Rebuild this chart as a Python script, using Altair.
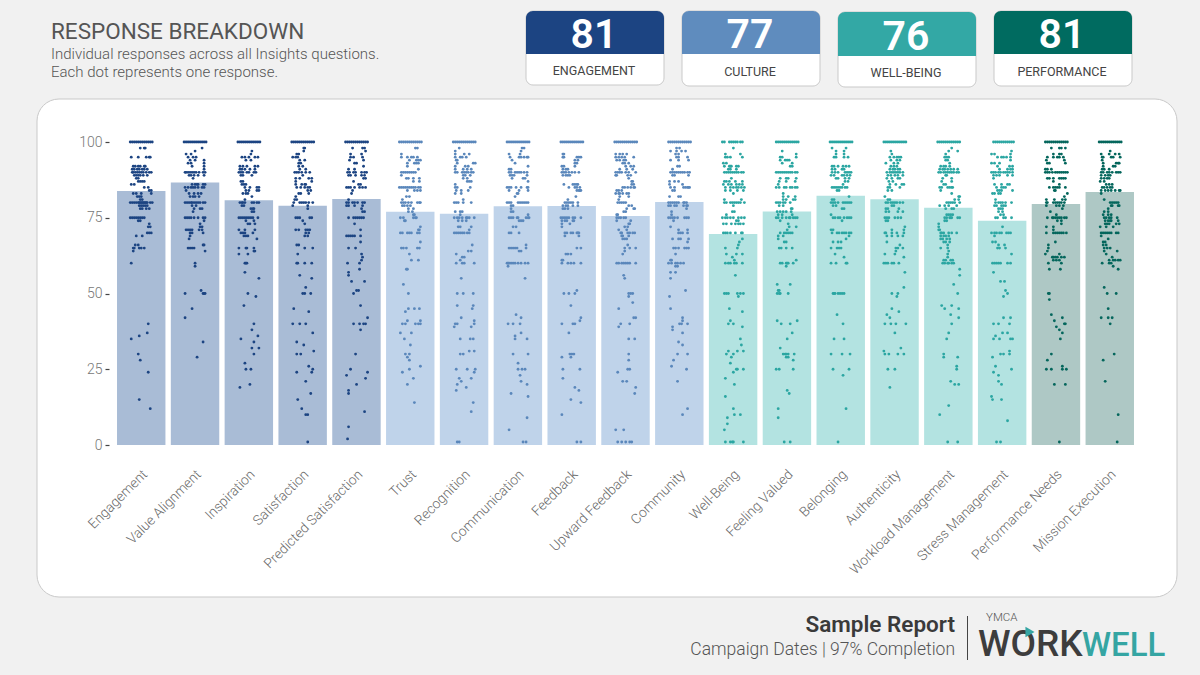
import altair as alt
import pandas as pd

QUESTIONS = ["Engagement", "Value Alignment", "Inspiration", "Satisfaction", "Predicted Satisfaction",
             "Trust", "Recognition", "Communication", "Feedback", "Upward Feedback", "Community",
             "Well-Being", "Feeling Valued", "Belonging", "Authenticity", "Workload Management",
             "Stress Management", "Performance Needs", "Mission Execution"]
SCORES = [83.8, 86.6, 80.8, 79, 81.2, 77, 76.3, 78.8, 78.9, 75.6, 80.2, 69.6, 77.1, 82.3, 81.1, 78.3, 74, 79.5, 83.5]
GROUPS = ["Engagement"] * 5 + ["Culture"] * 6 + ["Well-Being"] * 6 + ["Performance"] * 2
DOT_COLOR = {"Engagement": "#1c4482", "Culture": "#5a87bb", "Well-Being": "#2ba6a2", "Performance": "#04665c"}
BAR_COLOR = {"Engagement": "#a9bcd6", "Culture": "#bfd3ea", "Well-Being": "#b3e3e1", "Performance": "#aec8c5"}

TOP = [-11, -9, -7, -5, -3, -1, 1, 3, 5, 7, 9, 11]

# each row: response value, horizontal jitter of the responses with that value
DOTS = {
"Engagement": [(100,TOP),(98,[-1,3,4]),(95,[-10,-3,5,8,9]),(92,[-8,-6,-3,-1,3,4]),(91,[-9,-7,-4,-2,1,3,6]),
 (90,[-9,-8,-6,-4,-2,0,2,5,8,10]),(89,[-7,-5,-3,-1,2,6]),(88,[-5,-3]),(87,[-3,-1,1,3]),(86,[-10,-7]),(85,[3,7]),(84,[8,10]),
 (83,[-8,-5,0,10]),(82,[-4,-2,0]),(81,[-1,1]),(80,[-11,-9,-7,-5,-3,-2,-1,0,1,2,3,4,5,6,9,11]),(79,[-2,0,2,4,6]),(78,[-1,1,5,8]),
 (75,[-11,-9,-7,-5,-3,-1,1,3]),(74,[-3,-1]),(73,[8]),(72,[7,9]),(70,[6,8,10]),(69,[-5,1]),(66,[-6,-3]),(65,[-8,-7,-2,0,3]),(64,[-8]),(60,[-10]),
 (40,[7]),(37,[6]),(36,[-2]),(35,[-10]),(30,[-3]),(28,[-1]),(24,[7]),(15,[-2]),(12,[9])],
"Value Alignment": [(100,TOP),(98,[7]),(97,[0]),(96,[-9,-4]),(95,[-7,-2,1]),(94,[-5,0,9]),(93,[-7,-4,9]),(92,[9,-3]),(91,[9]),
 (90,[-10,-9,-7,-5,-3,-1,1,4,8,10]),(89,[-6,-4,-1,3,9]),(88,[-2]),(86,[-3,0,2,3,8,10]),(85,[-10,-7,-4,-2,0,3,7,9]),(84,[-9]),(83,[-6,-1,3,6]),(82,[-5,-2,0,4]),
 (80,[-10,-8,-6,-4,-3,-1,1,3,5,8,10]),(79,[-3,1]),(78,[-1,5,7]),(77,[-2]),(75,[-10,-8,-6,-4,-1,3,8,10]),(74,[9]),(73,[5]),(72,[5,7]),
 (71,[-9,-7,-5,-3,4,7]),(70,[-5,-3,8]),(69,[-5]),(68,[-6]),(66,[8,9]),(65,[-7,-5,-3,-1]),(64,[10]),(60,[0]),(59,[0]),
 (51,[6]),(50,[-10,8,9,10]),(45,[-3]),(42,[-10]),(34,[8]),(29,[2])],
"Inspiration": [(100,TOP),(97,[3]),(96,[2]),(95,[-7,-4,0,6,9]),(94,[-3,2]),(92,[-9,-6,-2,6,9]),(91,[-9,-7,-4,1,6]),(90,[-10,-8,-6,-2,0,5,7]),(89,[-8,-6,3]),
 (87,[-8,-6]),(86,[-7,-5,-3]),(85,[-4,1,8,10]),(84,[-3,0,8,10]),(83,[-6,-3,-1]),(82,[3]),(81,[-4]),(80,[-9,-7,-6,-4,3,5,8,10]),(79,[-7,-5]),(78,[2,4,5]),(77,[3,5]),
 (75,[-10,-8,-6,-4,-2,0,2,4,9]),(74,[-3,5]),(73,[-1,1,6]),(71,[-10,-4,6]),(70,[-8,-6,-4,4]),(69,[-5,-3,-1]),(68,[8]),(65,[-10,-3,-2,5]),(64,[5,6]),(63,[-10,-1]),
 (60,[-4,-3,-2]),(57,[-4]),(55,[10]),(50,[-1]),(49,[7]),(46,[-5]),(40,[5]),(38,[3]),(36,[9]),(35,[-8]),(34,[5]),(32,[3,10]),(30,[5]),(27,[-4]),(25,[-3,2]),(20,[1]),(19,[-9])],
"Satisfaction": [(100,TOP),(98,[1,2]),(97,[1]),(96,[-6,-4]),(95,[-10,-7,-5]),(94,[-3,2]),(93,[-4,-2]),(92,[-4,0]),(91,[-3,3]),(90,[-8,-6,-4,-1,3,7]),(89,[0]),
 (88,[-7,-3,6,9]),(87,[-7,9]),(86,[-7,-1,2,3]),(85,[-6,-2,2,5,7]),(84,[5,8]),(83,[-4,-2,6]),(82,[-7]),(81,[-8,-6]),(80,[-9,-3,-1,1,3,6,10]),(79,[-10,5]),(78,[5]),
 (75,[-7,-5,-3,7,9]),(74,[0]),(73,[2]),(71,[-7,-4,3,5,7]),(70,[3,6]),(69,[2,5]),(66,[-6,-4]),(65,[2,10]),(63,[-5]),(60,[-6,-5,2,9]),(56,[-3]),(55,[9]),(52,[3]),(50,[0,2,8]),
 (45,[-9]),(44,[6]),(40,[-10,-3,3]),(37,[10]),(34,[-6]),(33,[1]),(31,[11]),(30,[-6,-2]),(26,[6]),(25,[10]),(24,[9,-6]),(21,[3]),(17,[8]),(15,[-5]),(12,[-1]),(10,[3,5]),(1,[5])],
"Predicted Satisfaction": [(100,TOP),(98,[-4,6,8]),(97,[9]),(96,[-6,5]),(95,[-6,-3,6]),(94,[-7,7]),(93,[-2,0]),(92,[7]),(91,[-8,-2]),(90,[-9,-7,-3,-1,5,8,10]),(89,[-8,-6,-1,5,8]),(88,[7,9]),
 (87,[-3]),(86,[2,4]),(85,[-10,-8,-6,-2,3,6,9]),(84,[-4]),(83,[-5]),(81,[-8]),(80,[-10,-8,-4,-2,1,6,8]),(79,[-10,-8,-2,6]),(78,[5]),(77,[6,8]),(75,[-8,-3,-1,1,3,5,7]),(73,[-2]),
 (71,[4]),(69,[-10,-8,-6,-4,-2,4]),(67,[4]),(65,[-8,-1]),(63,[5]),(62,[6]),(61,[5]),(60,[-9,3]),(58,[3]),(57,[-8]),(56,[-8]),(54,[-5,8]),(51,[0,2]),(50,[-3]),
 (46,[4]),(42,[11]),(40,[-3,3,7,9]),(38,[4]),(30,[-1]),(25,[-6]),(24,[11]),(23,[-10]),(22,[9]),(20,[0]),(18,[-8]),(17,[-8]),(11,[8]),(6,[-8]),(2,[-9])],
"Trust": [(100,TOP),(98,[5,7]),(96,[-9]),(95,[-9,-3,1,3,7]),(94,[-1,6,8,10]),(93,[-3,4,6,8]),(92,[-3]),(91,[8]),(90,[-9,-7,-5,-3,-1,1,3,5]),(89,[-9]),(88,[-4,-2,3,9]),(87,[3,9]),
 (85,[-11,-9,-7,-5,-3,-1,1,3,5,8,10]),(84,[-3,4,7,10]),(82,[-4,-1]),(81,[-8]),(80,[-9,-7,-5,-2,1,7,9,10]),(79,[-8,-6,-3,0]),(78,[-2,3]),(77,[-2,2]),(76,[3,4]),
 (75,[-10,-7,3,5,6]),(74,[-6,-5]),(72,[10]),(71,[8,9]),(70,[-10,-8,-3,-1,1,7,9]),(67,[10]),(65,[-9,-7,-4,7,9]),(63,[-1]),(61,[1,8]),(58,[-4,-3]),(53,[-7]),(50,[-2]),
 (45,[-2,4,9]),(44,[-5]),(41,[-3,10]),(40,[-8,-5,5,8,10]),(37,[-10,1]),(35,[-6]),(33,[0]),(30,[-5,-1]),(29,[-3]),(28,[-1]),(26,[10]),(25,[-1]),(24,[-8]),(22,[3]),(20,[-3]),(14,[4])],
"Recognition": [(100,TOP),(98,[-5]),(97,[-9]),(96,[-9,0,5]),(95,[-9,-4,-2,2]),(94,[-8,-7]),(93,[-7,9,11]),(92,[-9,1,4]),(91,[-9,-1,3,7]),(90,[-9,-7,-2,0,2,4,7,9]),(89,[-1,1,6]),(88,[-1,3]),(87,[3,5,7]),
 (86,[-9]),(85,[-9,-7,6]),(84,[-8,-3,4]),(83,[-9,-3]),(81,[-1]),(80,[-10,-8,-6,-1,7]),(77,[-9,-4,-2]),(76,[-4]),(75,[-10,-7,-5,-2,2,3,5,10]),(74,[-6,-2,2]),(72,[-6,-4,7]),(71,[5]),(70,[-10,-8,-6,-4,-2,0,3,5]),
 (66,[8]),(64,[4,7]),(63,[-8]),(62,[-2,0]),(61,[-4]),(60,[-8,-2,0,10]),(55,[-3]),(50,[-7,-1,9]),(46,[-7,9]),(45,[8]),(42,[-3]),(41,[10]),(40,[10,-9,-7]),(39,[7,-10]),(35,[-4,6,9]),(31,[5,10]),(30,[-4,-1]),
 (25,[-8,3,11]),(24,[10]),(22,[-5,7]),(21,[-3]),(20,[-7]),(19,[2]),(18,[-8]),(14,[9]),(11,[7]),(1,[-7,-5])],
"Communication": [(100,TOP),(98,[4,6]),(97,[3]),(96,[-9,2]),(95,[-8,1,3,6,9,10]),(94,[-6]),(93,[-3]),(92,[10]),(91,[-9,-7]),(90,[-9,-7,-3,-1,1,3,6,9]),(89,[-8,-6,-4,9]),(88,[-6,5,7]),(87,[10]),
 (85,[-11,-9,-7,-2,3,9,10]),(84,[-9,1,10]),(83,[-1,0]),(82,[-3]),(80,[-11,-9,-7,0,2,4,6,8,10]),(79,[-7,-5]),(78,[-7]),(77,[-7,-5]),(76,[10]),(75,[-9,-7,-5,-1,0,8,10,11]),(74,[1,3,5]),(72,[-5,-2]),(70,[-9,-7,1]),
 (66,[8]),(65,[-9,-7,-5,-3,-1,8]),(64,[1,3]),(60,[-11,-10,-9,-7,-5,-3,0,3,7,10]),(59,[-10]),(55,[7]),(43,[-2]),(42,[3]),(40,[-10,-5,2]),(37,[3]),(36,[-3]),(35,[-3,9]),(30,[-5,10]),(27,[0]),(25,[0,4,7]),(23,[2]),(21,[3]),(20,[9]),(17,[-7]),(16,[10]),(9,[9]),(5,[-9]),(1,[5,8])],
"Feedback": [(100,TOP),(96,[-9,-8]),(95,[-9,-8,5,7,9]),(94,[3,6]),(93,[3,5]),(92,[-10,-8,3]),(91,[-9,-6,-4]),(90,[-10,-8,-6,-3,0,3,7]),(89,[-9,-6,-4,-2]),(86,[-8,1,3,5,6]),(85,[-3,3,5,8]),(84,[5,7,8,9]),(82,[4]),(81,[-4]),
 (80,[-7,-5,-3,-1,1,6]),(79,[-9,-6,-4,1,6]),(78,[-9,-7,-4]),(75,[-11,-9,-7,-5,-3,1,3,9]),(74,[-10,-7,-5,1,2]),(73,[-10,-2]),(72,[-10]),(70,[-7,-5,-1,1,5,6,7]),(69,[-7,7]),(65,[5,9]),(63,[-6,-4,-1]),(61,[-10,-9]),(60,[-10,-4,-1,2,9]),
 (51,[5]),(50,[-8,-3,3]),(46,[-1]),(42,[9]),(41,[8]),(40,[-10,1,3]),(37,[-3]),(30,[-2,0,2]),(29,[-10,-1]),(25,[-9,8]),(22,[-9]),(19,[3]),(18,[7]),(15,[-1]),(14,[9]),(10,[-10]),(1,[5,9])],
"Upward Feedback": [(100,TOP),(96,[-10,-6,-3,1]),(95,[-10,-7,-4,-1,8]),(94,[-9,-6,-2,0]),(93,[-3,-1,3]),(92,[0,5,8]),(91,[-6,1,7]),(90,[-10,-8,-6,-4,0,3,10]),(89,[-10,-9,2,5]),(88,[3]),(87,[6,7]),(86,[6,8]),(85,[-3,-1,2,5,8,9]),(84,[-9,-7,-4]),(83,[-10,-7,-6,-3,1,3]),(82,[-6,3]),(81,[-7]),
 (80,[-8,-6,-4,-2,0]),(79,[3,6]),(78,[1,8,9]),(77,[0,-2]),(76,[-9,-8]),(75,[-9,-7,-5,-2,0]),(74,[-9,5]),(73,[3,4]),(72,[2,-1]),(71,[-7,1]),(70,[-5,-4,2,4,7,9]),(69,[-4,-3,3]),(68,[-3,-1,1]),(66,[2]),(65,[-1,4,10]),(64,[-1]),(63,[-3]),
 (60,[-9,-7,-4,-2,0,2,4,10]),(56,[-2]),(55,[-1]),(50,[3,5,7]),(49,[3]),(47,[7]),(45,[-7]),(42,[8,10]),(40,[-5,4]),(39,[-7]),(35,[3,9]),(30,[3]),(28,[3]),(25,[2,4]),(24,[-8]),(21,[-3,1]),(19,[10]),(17,[9]),(5,[-10,-2]),(1,[-8,-4,0,4,6])],
"Community": [(100,TOP),(98,[-3,0]),(97,[-9,-3,2,6]),(96,[-4,-1]),(95,[-3,-1,8]),(94,[-9,9,-1]),(92,[0,-2]),(91,[-7]),(90,[-9,-7,-5,-3,-1,1,3,5,8,10]),(89,[-7,-5,9]),(87,[-10,-5,-1]),(86,[-10,3]),(85,[-9,-5,4,6,8,9,10]),(84,[-7,-5]),(82,[-10,-1,1]),
 (80,[-11,-9,-7,-5,-3,-1,4,5,7]),(79,[-11,-9,-5,-3,4,7,8]),(78,[7]),(77,[-8]),(76,[-8]),(75,[-11,-9,-7,-5,-2,5,7,9]),(74,[-6]),(72,[-9]),(71,[-1,8]),(70,[-1,1,3,8]),(68,[-7,-1,1,9]),(67,[8]),(65,[-6,-4,-1,5,7,9]),(63,[-4]),(61,[-9,-8]),(60,[-11,-8,-4,-2,1,4]),(59,[-4,-2]),(57,[-9,-4]),(55,[-9]),
 (51,[6]),(49,[-10]),(45,[-9]),(42,[3]),(41,[3]),(40,[0,2,8]),(39,[-7]),(38,[-7]),(37,[3]),(34,[-1]),(33,[3]),(30,[-2,8]),(28,[-6]),(26,[-8]),(25,[7]),(21,[-2]),(12,[8]),(10,[3])],
"Well-Being": [(100,[-11,-9,-4,-2,0,2,4,7,9]),(98,[0]),(96,[-8,7]),(95,[-8,-6,-3,9]),(93,[-10,-7]),(92,[-9,-3,3,5,-4,-2]),(91,[-5,-3,3]),(90,[-9,-7,-5,-3,-1,1,3,5,8,10]),(88,[-2]),(87,[-9,-7,-4,2,9]),(86,[-10,-5,-2,3,6,9]),(85,[-8,-3,0,3,5,8,11]),(84,[-8,-3,4,10]),(83,[0]),
 (81,[-9,8]),(80,[-9,-7,-3,-1,1,3,5,7,11]),(79,[0]),(77,[-1,1]),(76,[-7]),(75,[-11,-8,-6,-3,0,5,8,11]),(74,[3,5]),(73,[-10,-7,-2,2,5,7,10]),(70,[-10,-8,-6,-3,2,8,9]),(68,[9]),(67,[6]),(66,[5]),(65,[-8,4]),(63,[3,-7,9]),(62,[-1]),(61,[1]),(60,[-8,-5,-3,1,3,9]),(56,[2]),
 (50,[-9,-7,-5,4,7,10]),(49,[5]),(45,[-4]),(44,[9]),(41,[-3]),(40,[-5,0]),(39,[9]),(35,[7]),(33,[8]),(31,[10,4,-5]),(30,[-7,0]),(29,[-2]),(27,[-3]),(25,[10,3,4]),(24,[0]),(22,[-8]),(20,[1]),(16,[-8]),(12,[0]),(10,[1,7]),(9,[-6]),(7,[-6]),(5,[-9]),(1,[-8,-3,-1,0,10])],
"Feeling Valued": [(100,TOP),(97,[-5]),(96,[9]),(95,[-7,-5,9]),(94,[-7,-2,0,2]),(93,[-5,5]),(92,[3,5]),(90,[-11,-9,-7,-5,-3,-1,1,3,5,8,10]),(88,[-7,-1,1,9]),(87,[-8,-1,8]),(86,[-9]),(85,[-11,-8,-3,-1,3,5,8,10]),(83,[-4]),(82,[-4,1,8]),(81,[-4,-1,6,8]),
 (80,[-11,-9,-7,-4,-2,3]),(79,[-8,-4]),(78,[4,5]),(77,[-10,-7,-4,-1,4]),(76,[-9,-5,5]),(75,[-11,-9,-5,-1,2,3,6,8,10]),(74,[-7]),(73,[1]),(72,[9,2]),(71,[0]),(70,[-7,-3,-1,1,3,5]),(69,[-9,-4]),(68,[-9]),(67,[-3,-1]),(65,[-8,-6,-1,5]),(61,[9]),(60,[-7,-5,-1,0,1,6]),(59,[-1]),(53,[-10,3]),
 (51,[-9,-8]),(50,[-10,-8,-7,1]),(41,[-10,10]),(40,[-6,3]),(37,[5]),(35,[0]),(32,[-7]),(30,[-4,-2,-1,1,7]),(29,[-1,1]),(28,[6]),(25,[-11,-8,6]),(18,[0]),(17,[2]),(12,[-9]),(9,[-9]),(1,[-3,3])],
"Belonging": [(100,TOP),(98,[-9,5]),(97,[-5,3]),(96,[-5,3]),(95,[-7,-5,3,7]),(92,[-9,-7,-3,2,5,8]),(91,[-9,-6,1,3]),(90,[-9,-6,-3,4,6,8,10]),(89,[-10,-7,1,3,6,9]),(88,[-5,-3,4,8]),(87,[4,7]),(86,[2]),(85,[-9,-7,-5,-3,-1,1,4,6]),(84,[-4,-2]),(82,[8]),
 (81,[-9,-7]),(80,[-10,-8,-6,-3,2,4,6,8,10]),(79,[-8,-5]),(78,[1,3]),(76,[-10]),(75,[-8,-6,-3,-1,3,6,8,10]),(74,[1]),(71,[-10,-8]),(70,[-9,-4,-2,1,3,5,8,10]),(69,[8]),(68,[5]),(67,[-8,-3,0]),(65,[-10,-4,-2,0]),(63,[-6]),(62,[3]),(60,[-10,-5,5,6]),
 (50,[-8,-7,-6,-3,-1,1,3]),(43,[-4]),(40,[2]),(35,[-7,3]),(30,[-10,1,9]),(25,[-8,8]),(23,[2]),(12,[5]),(1,[-3])],
"Authenticity": [(100,TOP),(97,[-4]),(96,[-3]),(95,[-5,-1,2,4,6]),(94,[-4,2,5]),(93,[-9,-1,3]),(92,[-4,-1,2]),(91,[-5,-2,0,3,5]),(90,[-8,-5,-3,-1,1,3,5,8]),(89,[-7,-4,0,3,8]),(88,[-8,-3,3,5]),(87,[-6,-2]),(86,[-5,1,7,9]),(85,[-7,-5,5]),(84,[-7,-3]),(82,[-10]),
 (81,[-7,-5]),(80,[-9,-7,-4,-2,0,2,5,8]),(79,[-3,-1]),(78,[-9,-7,4]),(77,[-9,-6,3,8]),(75,[-10,-8,-6,0,3,6]),(74,[-9,-7]),(72,[10]),(71,[-3,9]),(70,[-10,-9,-3,2,9]),(69,[-8,-3,3,8]),(67,[-8]),(66,[5]),(65,[1,3,8]),(64,[1]),(63,[-10,0]),(62,[9]),(60,[-11,-9,-7,-3,-1,4]),(57,[10]),(52,[9]),
 (50,[-3,3]),(49,[2]),(45,[-3]),(44,[4]),(43,[-8]),(42,[-5]),(40,[-10,-4,1,11]),(37,[0]),(32,[6]),(31,[-11]),(30,[-10,-6,3,9]),(25,[-7,0]),(19,[-5])],
"Workload Management": [(100,TOP),(98,[3]),(97,[0,9]),(96,[-3]),(95,[-4,-2,0]),(94,[-3,-1]),(93,[1]),(92,[-8,-5,-3,1]),(91,[-9,-6,-4,-1,2,5,9]),(90,[-10,-8,-5,-3,-1,1,3,5,8,10]),(89,[-3,-2]),(88,[-6,3]),(87,[-7,3]),(86,[-5,-3]),(85,[-9,-7,-1,1,3,4]),(84,[-8]),(83,[3]),(82,[10,11]),(81,[6,10]),
 (80,[-2,0,2,4,6,11]),(79,[-9,-4,0,8]),(78,[-3,3,5]),(76,[-2,0,2,4]),(75,[-4,-2,1,2,3,9,11]),(74,[-4,-2]),(73,[-10]),(72,[-10]),(71,[-10,-9]),(70,[-8,-7,-5,0,3,8]),(69,[-8,-5,-3,0]),(68,[-8,-6,-2,1]),(67,[-5,-3,1]),(66,[-1]),(65,[-8,-1]),(64,[0]),(63,[-1]),(62,[-1]),(61,[-5,-3,2,4]),(60,[-6,-4,-1,0,3,5]),(58,[11]),(56,[11]),(53,[5]),
 (50,[9]),(46,[-7,3]),(45,[-4,10]),(43,[2]),(42,[10]),(40,[3]),(37,[0]),(35,[-2]),(30,[-5]),(29,[-5,9]),(26,[8]),(25,[8]),(21,[2]),(20,[6,10]),(13,[0]),(10,[-9]),(1,[-1,9])],
"Stress Management": [(100,[-9,-7,-5,-3,-1,1,3,5,7,9,11]),(97,[9]),(96,[-11,-8,8]),(95,[-5,-1,1,4,8]),(94,[8]),(93,[-11,-8,-3]),(92,[-5,7,10]),(91,[-3,5,8,10]),(90,[-11,-9,-7,-4,-2,1,3,5,7,10]),(89,[-9,-6,-3,5,10]),(88,[-9]),(86,[-8,-1,5,7]),(85,[-6,-1,1,3]),(84,[-5,-3,-1,10]),(83,[-4,-2,-10,-8]),
 (81,[-7]),(80,[-7,-4,-2,0,3,9]),(79,[-8,-6,-1,1,3]),(78,[-4,-2,0]),(77,[-4,0]),(76,[-2,1]),(75,[-7,-5,1,3,9]),(72,[0]),(70,[-11,-8,-6,-3,-1,4,6,8]),(69,[-8]),(67,[-10,-7]),(66,[-4,2]),(65,[-5,-3,3]),(63,[9]),(60,[-10,-8,-6,-4,-2,5,8]),(57,[-9]),(54,[-2,2]),(51,[3]),
 (50,[5]),(49,[1]),(42,[1,8]),(40,[-9,-4,7]),(37,[0,5]),(36,[-7]),(35,[-9,-3,8,10]),(31,[7]),(30,[7,-2,1]),(29,[-10]),(26,[-7]),(25,[9]),(24,[-9]),(23,[-4]),(21,[-4]),(20,[-1]),(16,[-11]),(15,[-10,-1]),(8,[5]),(1,[-6,-2])],
"Performance Needs": [(100,TOP),(98,[-5,3,5,9]),(96,[-3,3,5]),(95,[-9,-3,1,3,7]),(94,[-10,8]),(93,[-9,-7,9]),(91,[-11,-9,-5]),(90,[-11,-9,-7,-4,-1,1,3,5,7,9,11]),(88,[-9,-7,-3,3,5,7,9]),(87,[-3]),(86,[3]),(85,[-7,-3,-1,1,3,9]),(84,[-1,-2]),(83,[11]),(82,[8]),(81,[-10,-2,6,9]),
 (80,[-10,-9,-3,-1,1,3,5,8]),(79,[-10,0,3,7]),(78,[6]),(77,[-6]),(76,[0]),(75,[-9,-4,-3,-1,1,3,5,8,10]),(74,[5,1]),(73,[5]),(72,[-10,-3]),(71,[-3]),(70,[-10,-3,-1,1,3,5,7,10]),(67,[-1]),(66,[-8]),(65,[-8]),(64,[-9]),(63,[-11,3]),(62,[-4,-3,-1,1,5,8]),(61,[-3,0,3]),(60,[-8,5]),(58,[-7,4]),
 (50,[-8,-7]),(48,[-7]),(43,[-5]),(42,[6]),(41,[-2]),(40,[8,9]),(39,[0]),(38,[3]),(37,[6]),(35,[4]),(30,[-5]),(28,[-9]),(26,[6]),(25,[-10,-5,6,10]),(20,[-2,9]),(1,[3])],
"Mission Execution": [(100,TOP),(97,[0]),(96,[-9,-1,5,9]),(95,[-8,-7,1,3,10]),(94,[-8]),(93,[-7,6,8,9]),(92,[-7,3,5]),(91,[-8,-1,-6]),(90,[-9,-7,-3,-1,2,6,8,10]),(89,[-9,-5,-2,0]),(88,[-9,-6,-3,-1]),(87,[-10,-6]),(86,[-4,-1,2]),(85,[-8,-6,-3,0,2]),(84,[-9,-5,-2,1,5,9,10]),(83,[-9]),
 (81,[-6]),(80,[0,2,4,6,8]),(79,[1,2,8,9]),(78,[-2]),(77,[-2,-6]),(76,[-7,-2,1]),(75,[-6,-4,-1,1,7]),(74,[-5,-2,0,1,8]),(73,[-5,-3,-1,6,9]),(72,[-10,-4,3]),(70,[-9,-7,-5,-3,-1,1,6,8]),(69,[-9]),(68,[-2]),(67,[-7,-5]),(66,[-7,-4]),(65,[-6,-3,0]),(64,[-6,7]),(63,[-4]),(62,[2]),(61,[-1,3,5,8,10]),(60,[-8,-1,1]),(59,[3]),(58,[8]),
 (52,[-6]),(50,[-3,6]),(45,[-2]),(42,[-9,-2,2]),(40,[0]),(30,[4]),(28,[-7]),(21,[-5]),(10,[8]),(1,[7])],
}

KPI_NAMES = ["ENGAGEMENT", "CULTURE", "WELL-BEING", "PERFORMANCE"]
KPI_VALUES = ["81", "77", "76", "81"]
TITLE = "RESPONSE BREAKDOWN"
SUB1 = "Individual responses across all Insights questions."
SUB2 = "Each dot represents one response."

# page layout
OX, OY = 109, 142     # page position of the plot's top-left corner
PW, PH = 1033, 303
STEP = 53.83
FONT = "Roboto"
ONE = alt.Data(values=[{"k": 1}])


def rect(x0, y0, x1, y1, fill, stroke=None, **kw):
    opts = dict(fill=fill, **kw)
    if stroke:
        opts.update(stroke=stroke, strokeWidth=1)
    return alt.Chart(ONE).mark_rect(**opts).encode(
        x=alt.value(x0 - OX), x2=alt.value(x1 - OX), y=alt.value(y0 - OY), y2=alt.value(y1 - OY))


def label(txt, px, py, size, color, align="left", weight=400):
    return alt.Chart(ONE).mark_text(font=FONT, fontSize=size, color=color, align=align,
                                    baseline="alphabetic", fontWeight=weight).encode(
        x=alt.value(px - OX), y=alt.value(py - OY), text=alt.value(txt))


bars_df = pd.DataFrame({"question": QUESTIONS, "score": SCORES,
                        "fill": [BAR_COLOR[g] for g in GROUPS]})
rows = []
for i, q in enumerate(QUESTIONS):
    for v, js in DOTS[q]:
        for j in js:
            rows.append({"pos": STEP * i + j, "value": v, "fill": DOT_COLOR[GROUPS[i]]})
dots_df = pd.DataFrame(rows)

y_scale = alt.Scale(domain=[0, 100], nice=False)
y_axis = alt.Axis(values=[0, 25, 50, 75, 100], grid=False, domain=False, title=None, tickSize=4, tickColor="#444444",
                  tickWidth=1.2, labelColor="#777777", labelFont=FONT, labelFontSize=14, labelFontWeight=300, labelPadding=3,
                  zindex=1)

bars = alt.Chart(bars_df).mark_bar().encode(
    x=alt.X("question:N", sort=QUESTIONS,
            scale=alt.Scale(paddingInner=0.1, paddingOuter=0.149),
            axis=alt.Axis(title=None, domain=False, ticks=False, labelAngle=-45, labelAlign="right", labelBaseline="middle",
                          labelColor="#6a6a6a", labelFont=FONT, labelFontSize=13.8, labelFontWeight=300, labelPadding=27,
                          labelOffset=4, labelOverlap=False, labelLimit=300, zindex=1)),
    y=alt.Y("score:Q", scale=y_scale, axis=y_axis),
    color=alt.Color("fill:N", scale=None),
)
dots = alt.Chart(dots_df).mark_circle(size=8, opacity=1).encode(
    x=alt.X("pos:Q", scale=alt.Scale(domain=[-32.25, 1000.75], nice=False, zero=False), axis=None),
    y=alt.Y("value:Q", scale=y_scale, axis=y_axis),
    color=alt.Color("fill:N", scale=None),
)

layers = [rect(37, 99, 1177, 597, "#ffffff", "#c9c9c9", cornerRadius=22)]

# KPI cards
cards = [(526, 664, 11, 54, 85), (682, 820, 11, 54, 86), (838, 976, 12, 56, 87), (994, 1132, 11, 54, 86)]
for (x0, x1, y0, ym, y1), name, val, grp in zip(cards, KPI_NAMES, KPI_VALUES, ["Engagement", "Culture", "Well-Being", "Performance"]):
    col = {"Engagement": "#1c4482", "Culture": "#5f8cbe", "Well-Being": "#33a8a5", "Performance": "#006b60"}[grp]
    layers += [rect(x0, y0, x1, y1, "#ffffff", "#c9c9c9", cornerRadius=7),
               rect(x0, y0, x1, ym, col, cornerRadiusTopLeft=7, cornerRadiusTopRight=7),
               label(val, (x0 + x1) / 2 - 1, ym - 6, 41, "#ffffff", "center", 600),
               label(name, (x0 + x1) / 2 - 1, y1 - 10, 12.5, "#444444", "center", 400)]

layers += [label(TITLE, 51, 39, 22.5, "#555555", "left", 400),
           label(SUB1, 51, 59, 15, "#555555", "left", 300),
           label(SUB2, 51, 77, 15, "#555555", "left", 300)]

layers += [bars, dots]

# footer
layers += [label("Sample Report", 955, 632, 22.5, "#3a3a3a", "right", 600),
           label("Campaign Dates | 97% Completion", 955, 655, 17.5, "#555555", "right", 300),
           rect(967, 616, 968, 660, "#444444"),
           label("YMCA", 986, 621, 11.5, "#555555", "left", 300),
           label("WORK", 978, 656, 37, "#3d3d3d", "left", 500),
           label("WELL", 1082, 656, 33, "#35a5a3", "left", 500),
           alt.Chart(ONE).mark_point(shape="triangle-right", filled=True, size=110, color="#35a5a3", opacity=1).encode(
               x=alt.value(1030 - OX), y=alt.value(632 - OY))]

chart = alt.layer(*layers).resolve_scale(x="independent", y="shared", color="independent").properties(
    width=PW, height=PH,
    padding={"left": OX - 8, "top": OY - 8, "right": 1184 - (OX - 8) - PW, "bottom": 659 - (OY - 8) - PH},
    autosize=alt.AutoSizeParams(type="none"),
    background="#f1f1f1",
).configure_view(stroke=None)

chart.save("out.html", embed_options={"renderer": "svg", "actions": False, "defaultStyle": "body{background:#f1f1f1}"})
